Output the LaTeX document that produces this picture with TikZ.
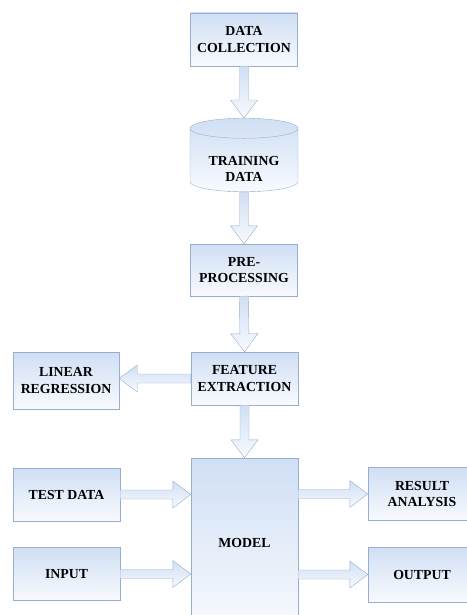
\documentclass[tikz,border=0pt]{standalone}
\usepackage{fontspec}
\setmainfont{Liberation Serif}
\usetikzlibrary{shapes,arrows,positioning,calc,shapes.geometric}
\definecolor{boxline}{RGB}{150,175,208}
\definecolor{boxtop}{RGB}{208,223,244}
\definecolor{boxbottom}{RGB}{248,250,254}

\begin{document}
\begin{tikzpicture}[
    x=1pt, y=-1pt,
    caption/.style={font=\fontsize{13.8}{16.5}\selectfont\bfseries, align=center},
    block/.style={rectangle, draw=boxline, top color=boxtop, bottom color=boxbottom, minimum width=107pt, minimum height=53pt, inner sep=0pt, caption},
    store/.style={cylinder, shape border rotate=90, shape aspect=0.26, draw=boxline, top color=boxtop, bottom color=boxbottom, minimum width=108pt, minimum height=70pt, caption, text height=40pt},
    flow/.style={draw=boxline, top color=boxtop, bottom color=boxbottom, to path={let \p1=(\tikztostart), \p2=(\tikztotarget), \n1={atan2(\y2-\y1,\x2-\x1)}, \n2={veclen(\x2-\x1,\y2-\y1)} in [shift={(\p1)}, rotate=\n1] (0pt,-4.5pt) -- (\n2-18pt,-4.5pt) -- (\n2-18pt,-13.5pt) -- (\n2,0pt) -- (\n2-18pt,13.5pt) -- (\n2-18pt,4.5pt) -- (0pt,4.5pt) -- cycle}}
]
\useasboundingbox (0,0) rectangle (466,615);

\node[block] (collect) at (244,39.5) {DATA\\COLLECTION};
\node[store, anchor=shape center] (train) at (244,155) {TRAINING\\DATA};
\node[block, minimum height=52pt] (prep) at (244,270) {PRE-\\PROCESSING};
\node[block] (feature) at (244.5,378.5) {FEATURE\\EXTRACTION};
\node[block, minimum width=106pt, minimum height=57pt] (linreg) at (66,380.5) {LINEAR\\REGRESSION};
\node[block, minimum height=170pt] (model) at (244.5,543) {MODEL};
\node[block] (test) at (66.5,494.5) {TEST DATA};
\node[block] (input) at (66.5,574) {INPUT};
\node[block, minimum width=108pt] (result) at (422,494) {RESULT\\ANALYSIS};
\node[block, minimum width=108pt, minimum height=55pt] (output) at (422,574.5) {OUTPUT};

\draw[flow] (collect.south) to (train.north);
\draw[flow] (train.south) to (prep.north);
\draw[flow] (prep.south) to (feature.north);
\draw[flow] (feature.west) to (feature.west -| linreg.east);
\draw[flow] (feature.south) to (model.north);
\draw[flow] (test.east) to (test.east -| model.west);
\draw[flow] (input.east) to (input.east -| model.west);
\draw[flow] (model.east |- result.west) to (result.west);
\draw[flow] (model.east |- output.west) to (output.west);

\end{tikzpicture}
\end{document}
